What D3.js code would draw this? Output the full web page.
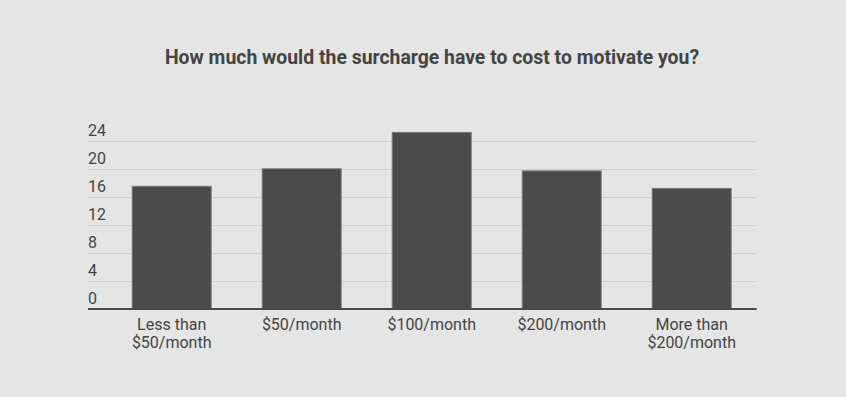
<!DOCTYPE html>
<html><head><meta charset="utf-8">
<script src="https://cdn.jsdelivr.net/npm/d3@7"></script>
<style>body{margin:0;background:#e5e5e5;}svg{display:block;font-family:Roboto,"Noto Sans",sans-serif;}</style>
</head><body><svg id="c" width="846" height="397"></svg>
<script>
const categories = [["Less than","$50/month"],["$50/month"],["$100/month"],["$200/month"],["More than","$200/month"]];
const values = [17.6, 20.1, 25.3, 19.8, 17.3];
const tickValues = [0,4,8,12,16,20,24];
const title = "How much would the surcharge have to cost to motivate you?";

const svg = d3.select("#c");
svg.append("rect").attr("width",846).attr("height",397).attr("fill","#e5e5e5");
const x = d3.scaleBand().domain(d3.range(categories.length)).range([106.7,756.7]).paddingInner(50/130).paddingOuter(25/130);
const y = d3.scaleLinear().domain([0,24]).range([309,141]);

svg.append("text").attr("x",432).attr("y",64).attr("text-anchor","middle")
  .attr("font-size",19.4).attr("font-weight","bold").attr("fill","#444").text(title);

const grid = svg.append("g");
grid.selectAll("line").data(tickValues.filter(d=>d>0)).join("line")
  .attr("x1",88).attr("x2",756.7).attr("y1",d=>y(d)+0.5).attr("y2",d=>y(d)+0.5)
  .attr("stroke","#cfcfcf").attr("stroke-width",1);
grid.selectAll("text").data(tickValues).join("text")
  .attr("x",88).attr("y",d=>y(d)-5).attr("font-size",16).attr("fill","#444").text(d=>d);

svg.append("g").selectAll("rect").data(values).join("rect")
  .attr("x",(d,i)=>x(i)+0.5).attr("y",d=>y(d)+0.5).attr("width",x.bandwidth()-1).attr("height",d=>y(0)-y(d))
  .attr("fill","#4a4a4a").attr("stroke","#7a7a7a").attr("stroke-width",1);

svg.append("line").attr("x1",88).attr("x2",756.7).attr("y1",309).attr("y2",309)
  .attr("stroke","#4a4a4a").attr("stroke-width",2);

const lab = svg.append("g");
categories.forEach((lines,i)=>{
  lines.forEach((t,j)=>{
    lab.append("text").attr("x",x(i)+x.bandwidth()/2).attr("y",330+j*18)
      .attr("text-anchor","middle").attr("font-size",16).attr("fill","#444").text(t);
  });
});
</script></body></html>
